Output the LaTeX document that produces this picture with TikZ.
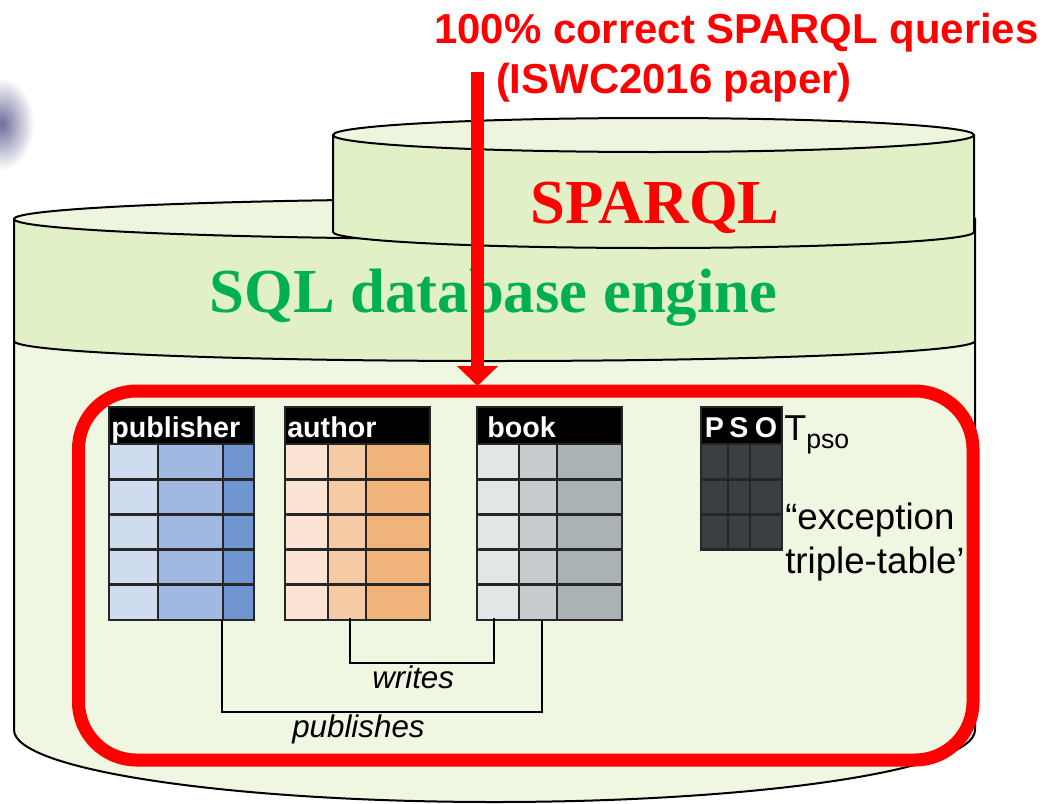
\documentclass[tikz,border=0pt]{standalone}
\usepackage{fontspec}
\setmainfont{Liberation Serif}
\setsansfont{Liberation Sans}
\usetikzlibrary{calc}
\usetikzlibrary{arrows.meta}
\usepackage{xcolor}
\definecolor{topface}{RGB}{237,245,222}
\definecolor{band}{RGB}{226,240,200}
\definecolor{body}{RGB}{239,246,225}
\definecolor{sqlgreen}{RGB}{0,176,80}
\definecolor{pubA}{RGB}{207,219,238}
\definecolor{pubB}{RGB}{161,185,225}
\definecolor{pubC}{RGB}{112,150,209}
\definecolor{autA}{RGB}{251,228,211}
\definecolor{autB}{RGB}{245,203,165}
\definecolor{autC}{RGB}{240,180,123}
\definecolor{bookA}{RGB}{227,230,231}
\definecolor{bookB}{RGB}{200,204,207}
\definecolor{bookC}{RGB}{170,178,181}
\definecolor{psocell}{RGB}{58,63,66}
\definecolor{blob}{RGB}{110,110,155}

\newcommand{\dbtable}[8]{%
  \fill[#5] (#1,444) rectangle (#2,{444+#8*35.2});
  \fill[#6] (#2,444) rectangle (#3,{444+#8*35.2});
  \fill[#7] (#3,444) rectangle (#4,{444+#8*35.2});
  \fill[black] (#1,407) rectangle (#4,444);
  \foreach \row in {0,...,#8} \draw[grid] (#1,{444+\row*35.2}) -- (#4,{444+\row*35.2});
  \draw[grid] (#2,444) -- (#2,{444+#8*35.2}) (#3,444) -- (#3,{444+#8*35.2});
  \draw[grid] (#1,407) rectangle (#4,{444+#8*35.2});
}

\begin{document}
\begin{tikzpicture}[x=0.75pt,y=-0.75pt,
  cyl/.style={draw=black,line width=1.5pt},
  grid/.style={draw=black!85,line width=2pt},
  link/.style={draw=black,line width=1.5pt},
  headtext/.style={text=white,inner sep=0pt,anchor=base west,font=\sffamily\bfseries\fontsize{21.5}{24}\selectfont},
  rel/.style={inner sep=0pt,anchor=base west,font=\sffamily\itshape\fontsize{23.5}{26}\selectfont},
  big/.style={inner sep=0pt,anchor=base,font=\bfseries\fontsize{47}{52}\selectfont},
  title/.style={inner sep=0pt,anchor=base,text=red,font=\sffamily\bfseries\fontsize{31.4}{36}\selectfont},
  redframe/.style={draw=red,line width=9.75pt,rounded corners=43.5pt},
  bigarrow/.style={draw=red,line width=9.75pt,-{Triangle[length=15pt,width=30pt]}}]
\useasboundingbox (0,0) rectangle (1045,803);
\shade[inner color=blob,outer color=white] (2,124) ellipse[x radius=32,y radius=46];

\fill[body] (14,219) -- (14,730) arc[start angle=180,end angle=0,x radius=480.5,y radius=72] -- (975,219) arc[start angle=0,end angle=-180,x radius=480.5,y radius=20] -- cycle;
\fill[band] (14,219) arc[start angle=180,end angle=0,x radius=480.5,y radius=20] -- (975,341) arc[start angle=0,end angle=180,x radius=480.5,y radius=20] -- cycle;
\filldraw[fill=topface,cyl] (494.5,219) ellipse[x radius=480.5,y radius=20];
\draw[cyl] (14,341) arc[start angle=180,end angle=0,x radius=480.5,y radius=20];
\draw[cyl] (14,219) -- (14,730) arc[start angle=180,end angle=0,x radius=480.5,y radius=72] -- (975,219);

\fill[band] (333,135) -- (333,232) arc[start angle=180,end angle=0,x radius=320.5,y radius=16] -- (974,135) arc[start angle=0,end angle=-180,x radius=320.5,y radius=17] -- cycle;
\filldraw[fill=topface,cyl] (653.5,135) ellipse[x radius=320.5,y radius=17];
\draw[cyl] (333,135) -- (333,232) arc[start angle=180,end angle=0,x radius=320.5,y radius=16] -- (974,135);

\node[big,text=red] (sparql) at (655,223) {SPARQL};
\node[big,text=sqlgreen] (engine) at (493.5,312) {SQL database engine};

\dbtable{109}{158}{223}{254}{pubA}{pubB}{pubC}{5}
\dbtable{285}{328}{366}{430}{autA}{autB}{autC}{5}
\dbtable{477}{519}{557}{622}{bookA}{bookB}{bookC}{5}
\dbtable{701}{728}{750}{782}{psocell}{psocell}{psocell}{3}
\node[headtext] (publisher) at (111,437) {publisher};
\node[headtext] (author) at (287,437) {author};
\node[headtext] (book) at (487,437) {book};
\foreach \l/\x in {P/714.5,S/739,O/766}
  \node[headtext,anchor=base] (head\l) at (\x,437) {\l};

\coordinate (pubkey) at (222,620);
\coordinate (bookpub) at (542,620);
\coordinate (authkey) at (350,618);
\coordinate (bookauth) at (494,618);
\draw[link] (authkey) -- ++(0,45) -| (bookauth);
\draw[link] (pubkey) -- ++(0,92) -| (bookpub);
\node[rel] (writes) at (372,688) {writes};
\node[rel] (publishes) at (292,737) {publishes};

\node[inner sep=0pt,anchor=base west,font=\sffamily\fontsize{27}{32}\selectfont] (tpso) at (784,440) {T\raisebox{-6pt}{\fontsize{20}{22}\selectfont pso}};
\node[inner sep=0pt,anchor=base west,align=left,font=\sffamily\fontsize{27.5}{33}\selectfont] (exception) at (785,573) {“exception\\triple-table’};

\draw[redframe] (78.5,391) rectangle (973,760);

\coordinate (arrowtop) at (477.5,72);
\coordinate (arrowtip) at (477.5,386);
\draw[bigarrow] (arrowtop) -- (arrowtip);

\node[title] (title) at (736.5,43) {100\% correct SPARQL queries};
\node[title] (paper) at (674,93) {(ISWC2016 paper)};
\end{tikzpicture}
\end{document}
